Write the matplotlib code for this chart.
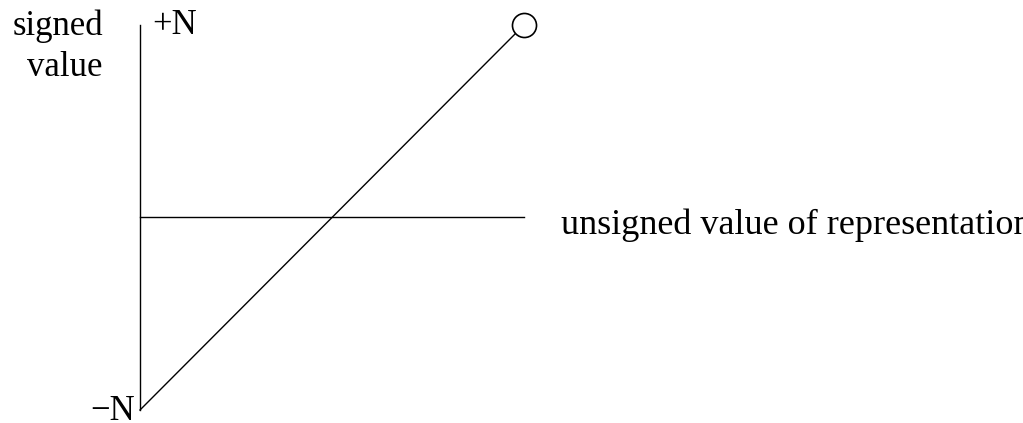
import matplotlib
matplotlib.use("Agg")
import matplotlib.pyplot as plt

# data (unsigned representation value normalized 0..1, signed value -N..+N as -1..1)
unsigned_vals = [0.0, 1.0]
signed_vals = [-1.0, 1.0]
axis_x = [0.0, 0.0]
axis_y = [-1.0, 1.0]
hline_x = [0.0, 1.0]
hline_y = [0.0, 0.0]
open_pt_x = [1.0]
open_pt_y = [1.0]

W, H = 1023, 423
fig = plt.figure(figsize=(W / 100, H / 100), dpi=100)
left, right = 140 / W, 524 / W
bottom, top = (H - 410) / H, (H - 25) / H
ax = fig.add_axes([left, bottom, right - left, top - bottom])
ax.set_xlim(0, 1)
ax.set_ylim(-1, 1)
ax.axis("off")

lw = 1.0
ax.plot(axis_x, axis_y, color="black", lw=lw, clip_on=False)
ax.plot(hline_x, hline_y, color="black", lw=lw, clip_on=False)
ax.plot(unsigned_vals, signed_vals, color="black", lw=lw, clip_on=False, zorder=2)
ax.scatter(open_pt_x, open_pt_y, s=300, facecolor="white", edgecolor="black",
           linewidth=1.2, zorder=3, clip_on=False)

font = dict(family="Liberation Serif", fontsize=25, color="black")
ax.text(0.031, 0.953, "+N", ha="left", va="baseline", **font)
ax.text(-0.013, -1.052, "\u2212N", ha="right", va="baseline", **font)
ax.text(-0.0964, 0.948, "signed", ha="right", va="baseline", **font)
ax.text(-0.0964, 0.735, "value", ha="right", va="baseline", **font)
ax.text(1.096, -0.0857, "unsigned value of representation", ha="left",
        va="baseline", family="Liberation Serif", fontsize=26, color="black")

fig.savefig("out.png", dpi=100)
